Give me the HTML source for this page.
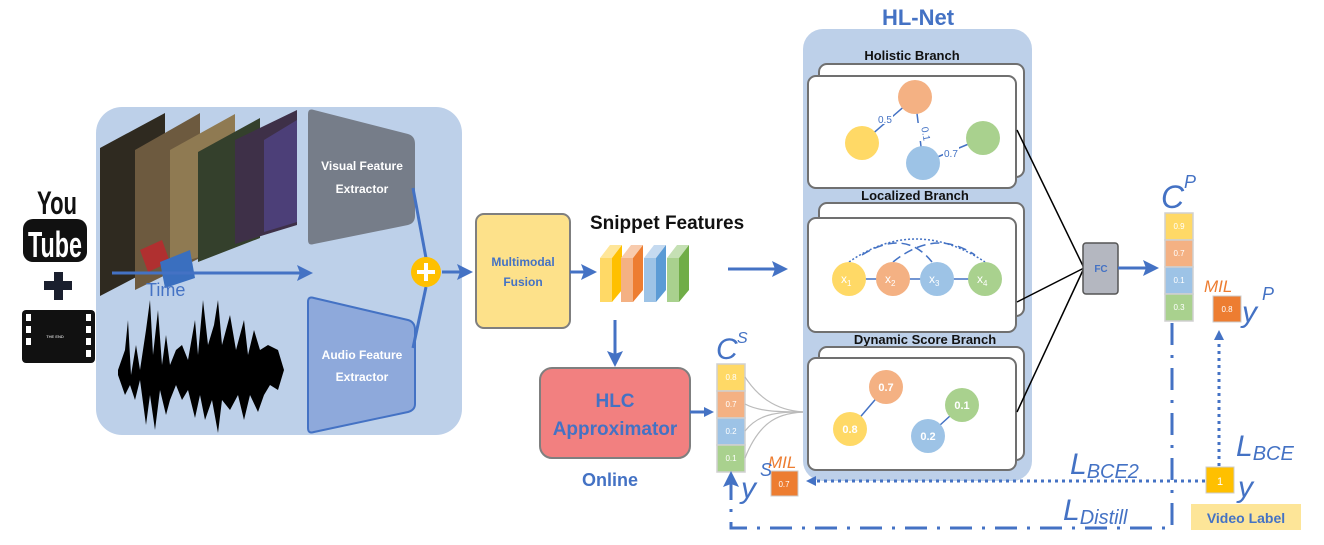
<!DOCTYPE html>
<html><head><meta charset="utf-8"><style>
html,body{margin:0;padding:0;background:#fff;}
svg{display:block;font-family:"Liberation Sans",sans-serif;}
.b{fill:#4472c4;font-weight:bold}
.t{font-weight:bold;fill:#111}
.c{fill:#fff;font-size:8px}
</style></head><body>
<svg width="1324" height="545" viewBox="0 0 1324 545" xmlns="http://www.w3.org/2000/svg">
<defs>
<marker id="ah" markerWidth="10" markerHeight="10" refX="6" refY="5" orient="auto" markerUnits="userSpaceOnUse"><path d="M0,0 L10,5 L0,10 Z" fill="#4472c4"/></marker>
<marker id="ah2" markerWidth="16" markerHeight="16" refX="11" refY="8" orient="auto" markerUnits="userSpaceOnUse"><path d="M0,0 L16,8 L0,16 L3,8 Z" fill="#4472c4"/></marker>
</defs>

<!-- youtube -->
<text x="57" y="214" font-size="32" font-weight="bold" text-anchor="middle" fill="#111" textLength="40" lengthAdjust="spacingAndGlyphs">You</text>
<rect x="23" y="219" width="64" height="43" rx="10" fill="#111"/>
<text x="55" y="257" font-size="36" font-weight="bold" text-anchor="middle" fill="#fff" textLength="54" lengthAdjust="spacingAndGlyphs">Tube</text>
<rect x="54" y="272" width="9" height="28" fill="#1a1f2e"/><rect x="44" y="281" width="28" height="9" fill="#1a1f2e"/>
<rect x="22" y="310" width="73" height="53" rx="4" fill="#111"/>
<g fill="#fff"><rect x="26" y="314" width="5" height="7"/><rect x="26" y="326" width="5" height="7"/><rect x="26" y="338" width="5" height="7"/><rect x="86" y="314" width="5" height="7"/><rect x="86" y="326" width="5" height="7"/><rect x="86" y="338" width="5" height="7"/><rect x="86" y="350" width="5" height="7"/></g>
<text x="55" y="338" font-size="4" fill="#fff" text-anchor="middle">THE END</text>

<!-- left panel -->
<rect x="96" y="107" width="366" height="328" rx="26" fill="#bdd0e9"/>
<g>
<polygon points="100,148 165,113 165,262 100,296" fill="#2f2a20"/>
<polygon points="135,150 200,113 200,258 135,290" fill="#6d5a3f"/>
<polygon points="170,150 235,114 235,246 170,266" fill="#8f7a52"/>
<polygon points="198,152 260,118 260,238 198,262" fill="#34402c"/>
<polygon points="235,140 297,110 297,225 235,244" fill="#3e3048"/>
<polygon points="264,140 297,120 297,222 264,232" fill="#4c3f78"/>
<polygon points="140,250 162,240 170,262 148,272" fill="#b03030"/>
<polygon points="160,262 190,250 195,278 165,288" fill="#3a6fbf"/>
</g>
<line x1="112" y1="273" x2="308" y2="273" stroke="#4472c4" stroke-width="3" marker-end="url(#ah2)"/>
<text x="146" y="296" font-size="18" fill="#4472c4">Time</text>
<!-- waveform -->
<g fill="#000">
<path d="M118,370 L125,350 L128,320 L131,375 L136,345 L140,370 L146,330 L150,300 L153,355 L158,310 L162,365 L166,335 L170,365 L176,350 L182,345 L188,360 L195,320 L198,355 L203,300 L208,345 L214,325 L218,300 L222,345 L230,315 L236,350 L244,320 L248,355 L254,330 L260,350 L268,345 L278,350 L284,370 L278,390 L270,385 L264,395 L258,412 L250,395 L244,420 L238,395 L230,410 L222,400 L218,433 L212,400 L205,420 L200,395 L195,418 L188,390 L182,400 L176,385 L170,400 L166,415 L160,390 L155,430 L150,395 L146,425 L140,380 L135,400 L130,385 L125,395 L118,375 Z"/>
</g>
<!-- extractors -->
<path d="M308,114 Q308,108 314,110 L408,134 Q415,136 415,144 L415,216 Q415,223 408,225 L314,244 Q308,246 308,240 Z" fill="#767d89"/>
<text x="362" y="170" font-size="12" font-weight="bold" fill="#fff" text-anchor="middle">Visual Feature</text>
<text x="362" y="193" font-size="12" font-weight="bold" fill="#fff" text-anchor="middle">Extractor</text>
<path d="M308,302 Q308,296 314,298 L408,320 Q415,322 415,330 L415,404 Q415,410 408,412 L314,432 Q308,434 308,428 Z" fill="#8ea9db" stroke="#4472c4" stroke-width="2"/>
<text x="362" y="359" font-size="12" font-weight="bold" fill="#fff" text-anchor="middle">Audio Feature</text>
<text x="362" y="381" font-size="12" font-weight="bold" fill="#fff" text-anchor="middle">Extractor</text>
<polyline points="413,188 426,258" stroke="#4472c4" stroke-width="3" fill="none"/>
<polyline points="413,348 426,287" stroke="#4472c4" stroke-width="3" fill="none"/>
<circle cx="426" cy="272" r="15" fill="#ffc000"/>
<rect x="424" y="263" width="4" height="18" fill="#fff"/><rect x="417" y="270" width="18" height="4" fill="#fff"/>
<line x1="442" y1="272" x2="468" y2="272" stroke="#4472c4" stroke-width="3" marker-end="url(#ah2)"/>

<!-- fusion -->
<rect x="476" y="214" width="94" height="114" rx="8" fill="#fde18a" stroke="#7f7f7f" stroke-width="2"/>
<text x="523" y="266" font-size="12" class="b" text-anchor="middle">Multimodal</text>
<text x="523" y="286" font-size="12" class="b" text-anchor="middle">Fusion</text>
<line x1="570" y1="272" x2="592" y2="272" stroke="#4472c4" stroke-width="3" marker-end="url(#ah2)"/>
<text x="590" y="229" font-size="19" class="t">Snippet Features</text>
<!-- cubes -->
<g>
<polygon points="600,258 610,245 622,245 612,258" fill="#ffe699"/><rect x="600" y="258" width="12" height="44" fill="#ffd966"/><polygon points="612,258 622,245 622,290 612,302" fill="#ffc000"/>
<polygon points="621,258 631,245 643,245 633,258" fill="#f8cbad"/><rect x="621" y="258" width="12" height="44" fill="#f4b183"/><polygon points="633,258 643,245 643,290 633,302" fill="#ed7d31"/>
<polygon points="644,258 654,245 666,245 656,258" fill="#c5daf0"/><rect x="644" y="258" width="12" height="44" fill="#9dc3e6"/><polygon points="656,258 666,245 666,290 656,302" fill="#5b9bd5"/>
<polygon points="667,258 677,245 689,245 679,258" fill="#c5e0b4"/><rect x="667" y="258" width="12" height="44" fill="#a9d18e"/><polygon points="679,258 689,245 689,290 679,302" fill="#70ad47"/>
</g>
<line x1="728" y1="269" x2="783" y2="269" stroke="#4472c4" stroke-width="3" marker-end="url(#ah2)"/>
<line x1="615" y1="320" x2="615" y2="362" stroke="#4472c4" stroke-width="3" marker-end="url(#ah2)"/>

<!-- HLC -->
<rect x="540" y="368" width="150" height="90" rx="12" fill="#f28080" stroke="#7f7f7f" stroke-width="2"/>
<text x="615" y="407" font-size="19" class="b" text-anchor="middle">HLC</text>
<text x="615" y="435" font-size="19" class="b" text-anchor="middle">Approximator</text>
<text x="610" y="486" font-size="18" class="b" text-anchor="middle">Online</text>
<line x1="690" y1="412" x2="710" y2="412" stroke="#4472c4" stroke-width="3" marker-end="url(#ah)"/>

<!-- Cs -->
<text x="716" y="359" font-size="30" font-style="italic" fill="#4472c4">C</text>
<text x="737" y="343" font-size="16" font-style="italic" fill="#4472c4">S</text>
<g stroke="#d0d0d0" stroke-width="1.5">
<rect x="717" y="364" width="28" height="27" fill="#ffd966"/><rect x="717" y="391" width="28" height="27" fill="#f4b183"/><rect x="717" y="418" width="28" height="27" fill="#9dc3e6"/><rect x="717" y="445" width="28" height="27" fill="#a9d18e"/>
</g>
<text x="731" y="380" class="c" text-anchor="middle">0.8</text><text x="731" y="407" class="c" text-anchor="middle">0.7</text><text x="731" y="434" class="c" text-anchor="middle">0.2</text><text x="731" y="461" class="c" text-anchor="middle">0.1</text>
<g stroke="#bbb" fill="none" stroke-width="1.2">
<path d="M745,377 C760,400 780,412 808,412"/><path d="M745,404 C760,412 780,412 808,412"/><path d="M745,431 C760,412 780,412 808,412"/><path d="M745,458 C760,420 780,412 808,412"/>
</g>

<!-- HL-Net -->
<text x="918" y="25" font-size="22" class="b" text-anchor="middle">HL-Net</text>
<rect x="803" y="29" width="229" height="452" rx="20" fill="#bdd0e9"/>
<text x="912" y="60" font-size="13" class="t" text-anchor="middle">Holistic Branch</text>
<rect x="819" y="64" width="205" height="113" rx="8" fill="#fff" stroke="#707070" stroke-width="2"/>
<rect x="808" y="76" width="208" height="112" rx="8" fill="#fff" stroke="#707070" stroke-width="2"/>
<g stroke="#4472c4" stroke-width="1.5"><line x1="862" y1="143" x2="915" y2="97"/><line x1="915" y1="97" x2="923" y2="163"/><line x1="923" y1="163" x2="983" y2="138"/></g>
<circle cx="915" cy="97" r="17" fill="#f4b183"/><circle cx="862" cy="143" r="17" fill="#ffd966"/><circle cx="923" cy="163" r="17" fill="#9dc3e6"/><circle cx="983" cy="138" r="17" fill="#a9d18e"/>
<g font-size="10" fill="#4472c4"><rect x="877" y="113" width="16" height="11" fill="#fff"/><text x="878" y="123">0.5</text><rect x="914" y="123" width="10" height="18" fill="#fff"/><text x="915" y="129" transform="rotate(80 919 132)">0.1</text><rect x="943" y="147" width="16" height="11" fill="#fff"/><text x="944" y="157">0.7</text></g>

<text x="915" y="200" font-size="13" class="t" text-anchor="middle">Localized Branch</text>
<rect x="819" y="203" width="205" height="113" rx="8" fill="#fff" stroke="#707070" stroke-width="2"/>
<rect x="808" y="218" width="208" height="114" rx="8" fill="#fff" stroke="#707070" stroke-width="2"/>
<g stroke="#4472c4" stroke-width="1.5" fill="none">
<line x1="849" y1="279" x2="985" y2="279"/>
<path d="M849,262 Q915,216 985,262" stroke-dasharray="2,2"/>
<path d="M862,255 Q905,228 932,262" stroke-dasharray="9,5"/>
<path d="M893,262 Q935,228 975,255" stroke-dasharray="9,5"/>
</g>
<circle cx="849" cy="279" r="17" fill="#ffd966"/><circle cx="893" cy="279" r="17" fill="#f4b183"/><circle cx="937" cy="279" r="17" fill="#9dc3e6"/><circle cx="985" cy="279" r="17" fill="#a9d18e"/>
<g fill="#fff" font-size="12"><text x="841" y="283">x<tspan font-size="8" dy="3">1</tspan></text><text x="885" y="283">x<tspan font-size="8" dy="3">2</tspan></text><text x="929" y="283">x<tspan font-size="8" dy="3">3</tspan></text><text x="977" y="283">x<tspan font-size="8" dy="3">4</tspan></text></g>

<text x="925" y="344" font-size="13" class="t" text-anchor="middle">Dynamic Score Branch</text>
<rect x="819" y="347" width="205" height="113" rx="8" fill="#fff" stroke="#707070" stroke-width="2"/>
<rect x="808" y="358" width="208" height="112" rx="8" fill="#fff" stroke="#707070" stroke-width="2"/>
<g stroke="#4472c4" stroke-width="1.5"><line x1="886" y1="387" x2="850" y2="429"/><line x1="962" y1="405" x2="928" y2="436"/></g>
<circle cx="886" cy="387" r="17" fill="#f4b183"/><circle cx="850" cy="429" r="17" fill="#ffd966"/><circle cx="962" cy="405" r="17" fill="#a9d18e"/><circle cx="928" cy="436" r="17" fill="#9dc3e6"/>
<g fill="#fff" font-size="11" font-weight="bold" text-anchor="middle"><text x="886" y="391">0.7</text><text x="850" y="433">0.8</text><text x="962" y="409">0.1</text><text x="928" y="440">0.2</text></g>

<!-- FC -->
<g stroke="#000" stroke-width="1.5"><line x1="1017" y1="130" x2="1084" y2="268"/><line x1="1017" y1="302" x2="1084" y2="268"/><line x1="1017" y1="412" x2="1084" y2="268"/></g>
<rect x="1083" y="243" width="35" height="51" rx="3" fill="#b4b7c0" stroke="#555" stroke-width="1.5"/>
<text x="1101" y="272" font-size="10" class="b" text-anchor="middle">FC</text>
<line x1="1118" y1="268" x2="1154" y2="268" stroke="#4472c4" stroke-width="3" marker-end="url(#ah2)"/>

<!-- Cp -->
<text x="1161" y="208" font-size="32" font-style="italic" fill="#4472c4">C</text>
<text x="1184" y="188" font-size="18" font-style="italic" fill="#4472c4">P</text>
<g stroke="#d0d0d0" stroke-width="1.5">
<rect x="1165" y="213" width="28" height="27" fill="#ffd966"/><rect x="1165" y="240" width="28" height="27" fill="#f4b183"/><rect x="1165" y="267" width="28" height="27" fill="#9dc3e6"/><rect x="1165" y="294" width="28" height="27" fill="#a9d18e"/>
</g>
<text x="1179" y="229" class="c" text-anchor="middle">0.9</text><text x="1179" y="256" class="c" text-anchor="middle">0.7</text><text x="1179" y="283" class="c" text-anchor="middle">0.1</text><text x="1179" y="310" class="c" text-anchor="middle">0.3</text>

<text x="1204" y="292" font-size="17" font-style="italic" fill="#ed7d31">MIL</text>
<rect x="1213" y="296" width="28" height="26" fill="#ed7d31" stroke="#ccc"/>
<text x="1227" y="312" class="c" text-anchor="middle">0.8</text>
<text x="1242" y="322" font-size="30" font-style="italic" fill="#4472c4">y</text>
<text x="1262" y="300" font-size="18" font-style="italic" fill="#4472c4">P</text>

<!-- losses -->
<line x1="1219" y1="466" x2="1219" y2="334" stroke="#4472c4" stroke-width="3" stroke-dasharray="3,4" marker-end="url(#ah)"/>
<text x="1236" y="456" font-size="30" font-style="italic" fill="#4472c4">L<tspan font-size="20" dy="4">BCE</tspan></text>
<rect x="1206" y="467" width="28" height="26" fill="#ffc000" stroke="#ccc"/>
<text x="1220" y="485" font-size="11" fill="#fff" text-anchor="middle">1</text>
<text x="1238" y="497" font-size="30" font-style="italic" fill="#4472c4">y</text>
<rect x="1191" y="504" width="110" height="26" fill="#fde598"/>
<text x="1246" y="523" font-size="14" class="b" text-anchor="middle">Video Label</text>

<line x1="1205" y1="481" x2="810" y2="481" stroke="#4472c4" stroke-width="3" stroke-dasharray="3,4" marker-end="url(#ah)"/>
<text x="1070" y="474" font-size="30" font-style="italic" fill="#4472c4">L<tspan font-size="20" dy="4">BCE2</tspan></text>
<polyline points="1172,323 1172,528 731,528 731,480" fill="none" stroke="#4472c4" stroke-width="3" stroke-dasharray="22,10,3,10"/>
<line x1="731" y1="500" x2="731" y2="476" stroke="#4472c4" stroke-width="3" marker-end="url(#ah2)"/>
<text x="1063" y="520" font-size="30" font-style="italic" fill="#4472c4">L<tspan font-size="20" dy="4">Distill</tspan></text>

<text x="768" y="468" font-size="17" font-style="italic" fill="#ed7d31">MIL</text>
<rect x="771" y="471" width="27" height="25" fill="#ed7d31" stroke="#ccc"/>
<text x="784" y="487" class="c" text-anchor="middle">0.7</text>
<text x="741" y="498" font-size="30" font-style="italic" fill="#4472c4">y</text>
<text x="760" y="476" font-size="18" font-style="italic" fill="#4472c4">S</text>
</svg>
</body></html>
